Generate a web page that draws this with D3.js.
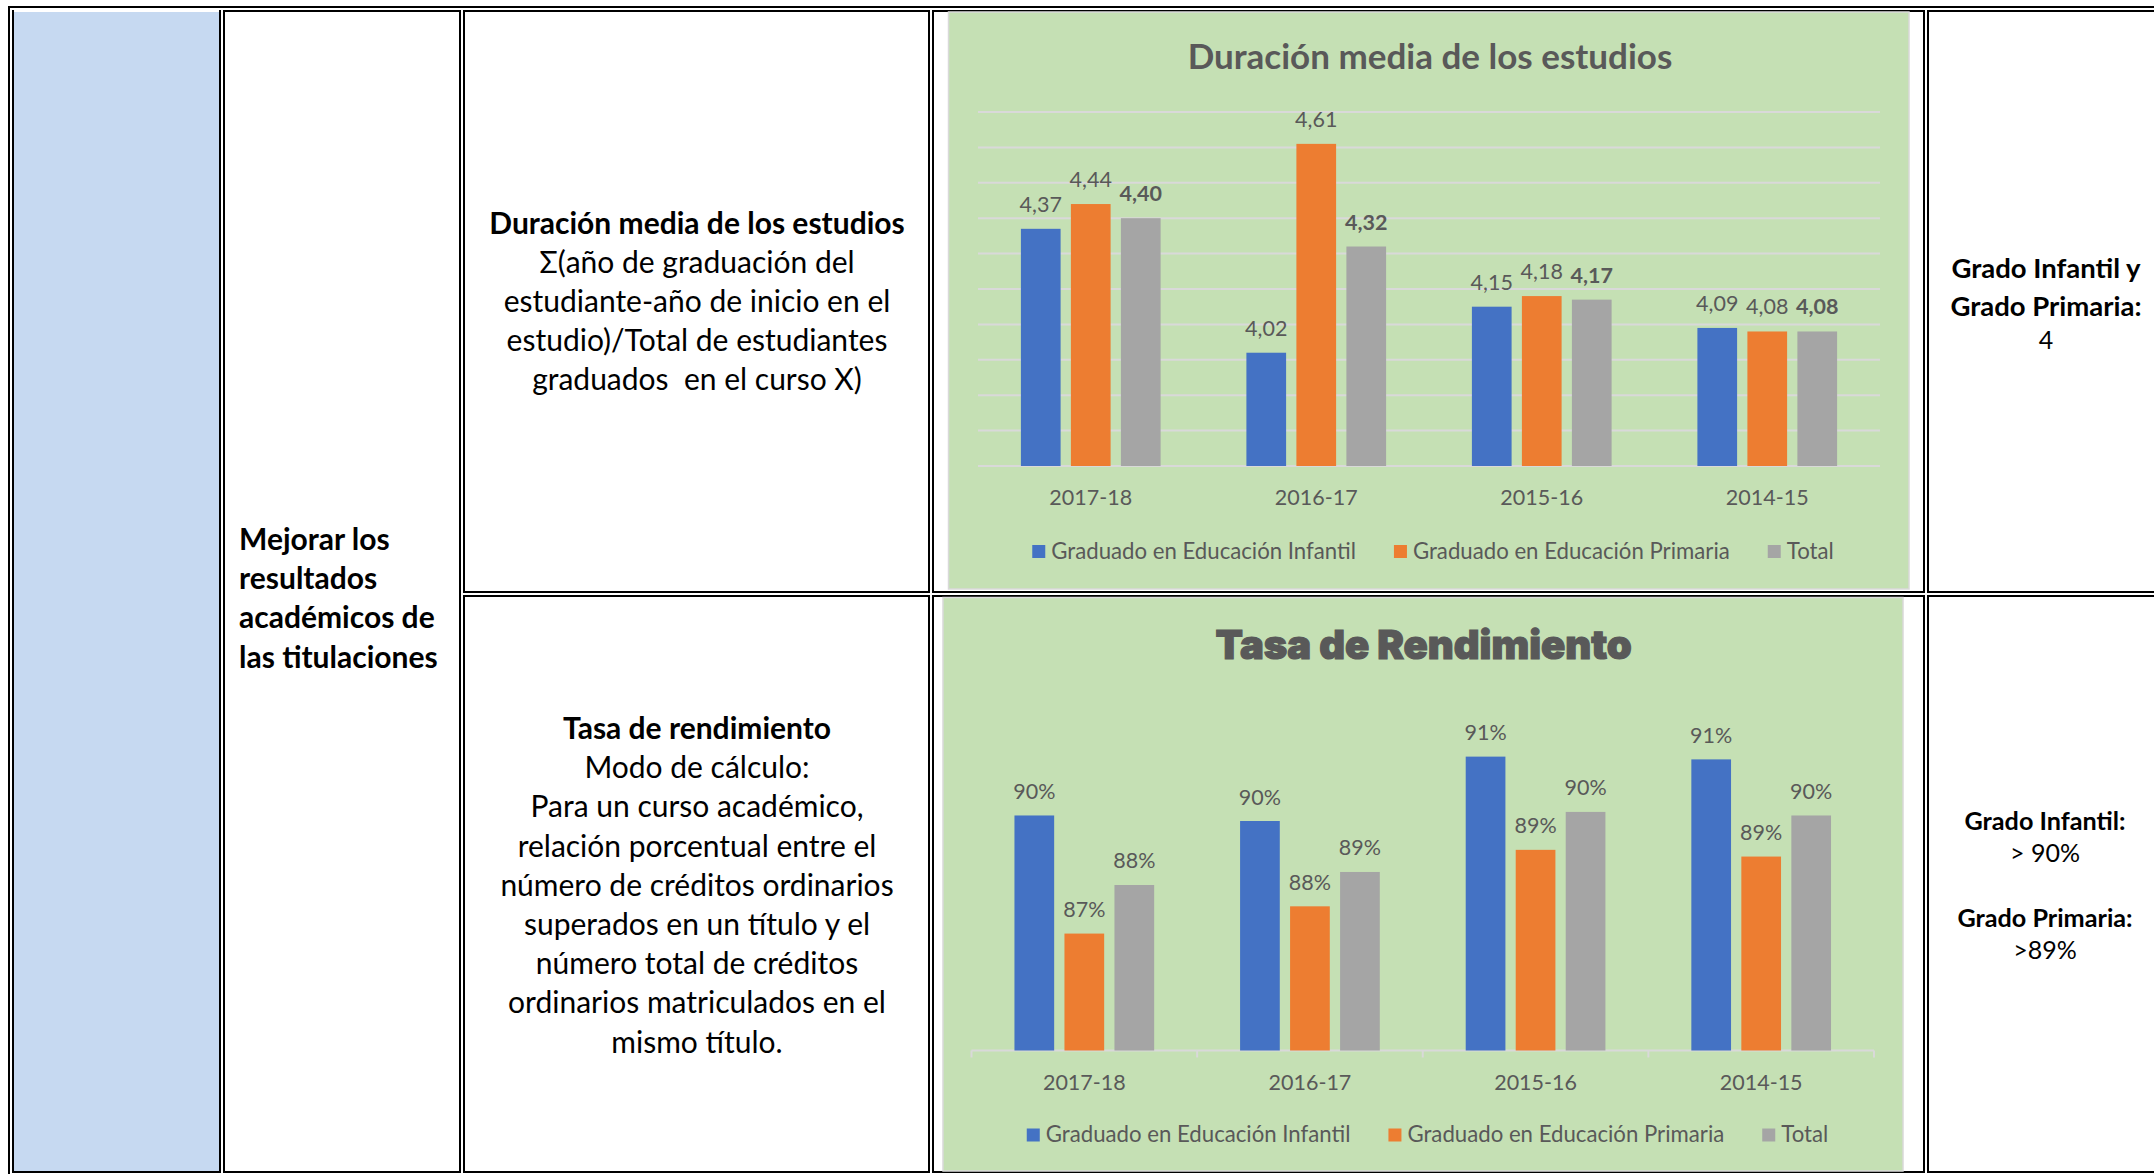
<!DOCTYPE html>
<html><head><meta charset="utf-8">
<script src="https://cdn.jsdelivr.net/npm/d3@7"></script>
<style>html,body{margin:0;padding:0;background:#fff;overflow:hidden}</style>
</head><body>
<svg id="c" width="2154" height="1174"></svg>
<script>
// ---------- DATA ----------
const categories = ["2017-18", "2016-17", "2015-16", "2014-15"];
const seriesNames = ["Graduado en Educación Infantil", "Graduado en Educación Primaria", "Total"];
const seriesColors = ["#4472C4", "#ED7D31", "#A5A5A5"];

// Duración media de los estudios (años)
const durInfantil = [4.37, 4.02, 4.15, 4.09];
const durPrimaria = [4.44, 4.61, 4.18, 4.08];
const durTotal    = [4.40, 4.32, 4.17, 4.08];
const durTicks    = [3.7, 3.8, 3.9, 4.0, 4.1, 4.2, 4.3, 4.4, 4.5, 4.6, 4.7];

// Tasa de rendimiento
const rendInfantil = [0.8995, 0.8981, 0.9144, 0.9137];
const rendPrimaria = [0.8696, 0.8765, 0.8908, 0.8891];
const rendTotal    = [0.8819, 0.8852, 0.9004, 0.8995];
const rendDomain   = [0.84, 0.92];

// Table texts
const objetivoLines = ["Mejorar los", "resultados", "académicos de", "las titulaciones"];
const durDescTitle = "Duración media de los estudios";
const durDescLines = ["Σ(año de graduación del", "estudiante-año de inicio en el", "estudio)/Total de estudiantes", "graduados  en el curso X)"];
const rendDescTitle = "Tasa de rendimiento";
const rendDescLines = ["Modo de cálculo:", "Para un curso académico,", "relación porcentual entre el", "número de créditos ordinarios", "superados en un título y el", "número total de créditos", "ordinarios matriculados en el", "mismo título."];
const durMetaBold = ["Grado Infantil y", "Grado Primaria:"];
const durMetaValue = "4";
const rendMeta = [["Grado Infantil:", "> 90%"], ["Grado Primaria:", ">89%"]];
const chartTitles = ["Duración media de los estudios", "Tasa de Rendimiento"];

// ---------- DRAW ----------
const FONT = "Lato, 'Liberation Sans', sans-serif";
const GREY = "#595959";
const svg = d3.select("#c");

function box(x0, y0, x1, y1, opts = {}) {
  const g = svg.append("g");
  if (opts.fill) g.append("rect").attr("x", x0 + 2).attr("y", y0 + 2)
    .attr("width", x1 - x0 - 4).attr("height", y1 - y0 - 4).attr("fill", opts.fill);
  const sides = opts.sides || "trbl";
  const p = [];
  if (sides.includes("t")) p.push(`M${x0},${y0 + 1}H${x1}`);
  if (sides.includes("b")) p.push(`M${x0},${y1 - 1}H${x1}`);
  if (sides.includes("l")) p.push(`M${x0 + 1},${y0}V${y1}`);
  if (sides.includes("r")) p.push(`M${x1 - 1},${y0}V${y1}`);
  g.append("path").attr("d", p.join("")).attr("stroke", "#000").attr("stroke-width", 2).attr("fill", "none");
}

box(8, 6, 2180, 1200);
box(12, 10, 221, 1173, { fill: "#C6D9F1", sides: "rbl" });
box(223, 10, 461, 1173);
box(463, 10, 930, 593);
box(463, 595, 930, 1173);
box(932, 10, 1925, 593);
box(932, 595, 1925, 1173);
box(1927, 10, 2180, 593);
box(1927, 595, 2180, 1173);

function textLines(lines, x, y0, step, size, weight, anchor) {
  const t = svg.append("g").attr("font-family", FONT).attr("font-size", size)
    .attr("font-weight", weight).attr("text-anchor", anchor).attr("fill", "#000");
  lines.forEach((l, i) => t.append("text").attr("x", x).attr("y", y0 + i * step).attr("xml:space", "preserve").text(l));
}

// Column 2
textLines(objetivoLines, 239, 550, 39.2, 30, 700, "start");
// Column 3
textLines([durDescTitle], 697, 233.5, 39.2, 30, 700, "middle");
textLines(durDescLines, 697, 272.7, 39.2, 30, 400, "middle");
textLines([rendDescTitle], 697, 739, 39.2, 30, 700, "middle");
textLines(rendDescLines, 697, 778.2, 39.2, 30, 400, "middle");
// Column 5
textLines(durMetaBold, 2046, 277.5, 38.3, 27.5, 700, "middle");
textLines([durMetaValue], 2046, 349, 0, 25, 400, "middle");
textLines([rendMeta[0][0]], 2045, 829.5, 0, 25.2, 700, "middle");
textLines([rendMeta[0][1]], 2045, 862, 0, 25, 400, "middle");
textLines([rendMeta[1][0]], 2045, 927, 0, 25.2, 700, "middle");
textLines([rendMeta[1][1]], 2045, 958.5, 0, 25, 400, "middle");

// ---------- charts ----------
function legend(g, cx, baseline) {
  const items = g.append("g").attr("font-family", FONT).attr("font-size", 22.2).attr("fill", GREY);
  const widths = [];
  const nodes = seriesNames.map((s, i) => {
    const it = items.append("g");
    it.append("rect").attr("width", 13).attr("height", 13).attr("y", baseline - 13.5).attr("fill", seriesColors[i]);
    const t = it.append("text").attr("x", 19).attr("y", baseline).text(s);
    widths.push(19 + t.node().getComputedTextLength());
    return it;
  });
  const gap = 38;
  const total = d3.sum(widths) + gap * (widths.length - 1);
  let x = cx - total / 2;
  nodes.forEach((n, i) => { n.attr("transform", `translate(${x},0)`); x += widths[i] + gap; });
}

function barChart(cfg) {
  const g = svg.append("g");
  g.append("rect").attr("x", cfg.bg[0]).attr("y", cfg.bg[1]).attr("width", cfg.bg[2]).attr("height", cfg.bg[3])
    .attr("fill", "#C5E0B4").attr("stroke", "#D9D9D9").attr("stroke-width", 1.5);
  const x0 = d3.scaleBand().domain(categories).range(cfg.xRange);
  const groupW = 139.7;
  const x1 = d3.scaleBand().domain(seriesNames).range([0, groupW]).paddingInner(0.206);
  const y = d3.scaleLinear().domain(cfg.domain).range(cfg.yRange);
  const base = y(cfg.domain[0]);

  if (cfg.ticks) {
    g.append("g").selectAll("line").data(cfg.ticks).join("line")
      .attr("x1", cfg.xRange[0]).attr("x2", cfg.xRange[1])
      .attr("y1", d => y(d)).attr("y2", d => y(d))
      .attr("stroke", "#D9D9D9").attr("stroke-width", 2);
  }
  if (cfg.axisLine) {
    const edges = categories.map(c => x0(c)).concat([cfg.xRange[1]]);
    g.append("line").attr("x1", cfg.xRange[0]).attr("x2", cfg.xRange[1]).attr("y1", base).attr("y2", base)
      .attr("stroke", "#D9D9D9").attr("stroke-width", 2);
    g.append("g").selectAll("line").data(edges).join("line")
      .attr("x1", d => d).attr("x2", d => d).attr("y1", base).attr("y2", base + 7)
      .attr("stroke", "#D9D9D9").attr("stroke-width", 2);
  }
  const off = (x0.bandwidth() - groupW) / 2;
  const data = [];
  categories.forEach((c, i) => cfg.series.forEach((arr, s) => data.push({ c, s, v: arr[i] })));
  g.append("g").selectAll("rect").data(data).join("rect")
    .attr("x", d => x0(d.c) + off + x1(seriesNames[d.s]))
    .attr("y", d => y(d.v)).attr("width", x1.bandwidth()).attr("height", d => base - y(d.v))
    .attr("fill", d => seriesColors[d.s]);
  g.append("g").attr("font-family", FONT).attr("font-size", 21.5).attr("fill", GREY).attr("text-anchor", "middle")
    .selectAll("text").data(data).join("text")
    .attr("x", d => x0(d.c) + off + x1(seriesNames[d.s]) + x1.bandwidth() / 2)
    .attr("y", d => y(d.v) - cfg.labelGap)
    .attr("font-weight", d => (cfg.boldTotal && d.s === 2) ? 700 : 400)
    .text(d => cfg.fmt(d.v));
  // category axis labels
  const ax = g.append("g").attr("transform", `translate(0,${base})`)
    .call(d3.axisBottom(x0).tickSize(0).tickPadding(0));
  ax.select(".domain").remove();
  ax.selectAll("text").attr("font-family", FONT).attr("font-size", 21.5).attr("fill", GREY)
    .attr("dy", null).attr("y", cfg.catY - base);
  // title
  g.append("text").attr("x", cfg.titleX).attr("y", cfg.titleY).attr("text-anchor", "middle")
    .attr("font-family", cfg.titleFont).attr("font-size", cfg.titleSize).attr("font-weight", cfg.titleWeight)
    .attr("fill", GREY).attr("stroke", cfg.titleStroke ? GREY : "none").attr("stroke-width", cfg.titleStroke || 0)
    .text(cfg.title);
  legend(g, cfg.legendX, cfg.legendY);
}

const fmtComma = v => d3.format(".2f")(v).replace(".", ",");
barChart({
  bg: [948.5, 12, 960.5, 577],
  xRange: [978, 1880], domain: [3.7, 4.7], yRange: [466, 112],
  ticks: durTicks, axisLine: false,
  series: [durInfantil, durPrimaria, durTotal], boldTotal: true,
  fmt: fmtComma, labelGap: 17, catY: 505,
  title: chartTitles[0], titleX: 1430, titleY: 69, titleSize: 35, titleWeight: 700, titleFont: FONT,
  legendX: 1433, legendY: 558.5
});
barChart({
  bg: [943, 597.5, 960, 573.5],
  xRange: [971.5, 1874], domain: rendDomain, yRange: [1050.5, 734.5],
  ticks: null, axisLine: true,
  series: [rendInfantil, rendPrimaria, rendTotal], boldTotal: false,
  fmt: d3.format(".0%"), labelGap: 16.5, catY: 1089.5,
  title: chartTitles[1], titleX: 1423.6, titleY: 659, titleSize: 40, titleWeight: 900, titleStroke: 1.2,
  titleFont: "Inter, 'DejaVu Sans', sans-serif",
  legendX: 1427.5, legendY: 1142
});
</script>
</body></html>
